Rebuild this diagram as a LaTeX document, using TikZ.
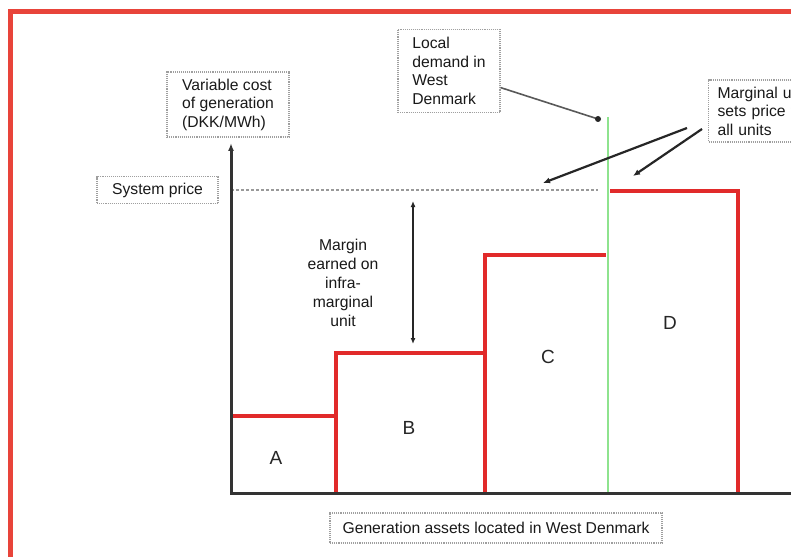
\documentclass[tikz,border=0pt]{standalone}
\usepackage{fontspec}
\setmainfont{Liberation Sans}
\usetikzlibrary{arrows.meta,calc}
\definecolor{frame}{HTML}{E8443A}
\definecolor{step}{HTML}{E12A2A}
\definecolor{dem}{HTML}{8EE38E}
\definecolor{axis}{HTML}{333333}
\tikzset{
  lbox/.style={draw=gray!75, densely dotted, line width=1.1pt, inner sep=0pt,
    font=\fontsize{15.7}{18.5}\selectfont, align=left, text=black!90},
  plain/.style={font=\fontsize{15.7}{19}\selectfont, align=center, text=black!90},
  letter/.style={font=\fontsize{19}{22}\selectfont, text=black!85},
  redline/.style={draw=step, line width=3.6pt},
  pointer/.style={draw=black!85, line width=2.2pt, -{Latex[length=7pt,width=6pt]}},
}
\begin{document}
\begin{tikzpicture}[x=1pt,y=-1pt]
\useasboundingbox (0,0) rectangle (791,556);
\clip (0,0) rectangle (791,556);
\fill[white] (0,0) rectangle (791,556);
% red frame
\draw[frame, line width=5pt] (10.5,11.5) rectangle (820,580);

% demand line (green)
\draw[dem, line width=2pt] (608,117) -- (608,493);

% system price dotted line
\draw[gray!80, densely dashed, line width=1.2pt] (231,190) -- (598,190);

% red step curve
\draw[redline] (231,416) -- (336,416);
\draw[redline] (336,493) -- (336,353) -- (485,353);
\draw[redline] (485,493) -- (485,255) -- (606,255);
\draw[redline] (610,191) -- (738,191) -- (738,493);

% axes
\draw[axis, line width=3pt, line cap=rect] (231,493) -- (800,493);
\draw[axis, line width=3pt, -{Latex[length=8pt,width=6pt]}] (231,493) -- (231,143);

% boxes
\node[lbox, minimum width=122pt, minimum height=65pt] (vc) at (228,104.5)
  {Variable cost\\of generation\\(DKK/MWh)};
\node[lbox, minimum width=121pt, minimum height=27pt] (sp) at (157.5,190)
  {System price};
\node[lbox, minimum width=102pt, minimum height=83pt] (ld) at (449,71)
  {Local\\demand in\\West\\Denmark};
\node[lbox, anchor=west, minimum width=170pt, minimum height=62pt, text width=152pt, inner xsep=9pt] (mu) at (708,111)
  {Marginal unit\\sets price for\\all units};
\node[lbox, minimum width=332pt, minimum height=30pt] (ga) at (496,528)
  {Generation assets located in West Denmark};

% margin label and double arrow
\node[plain] (mg) at (343,283) {Margin\\earned on\\infra-\\marginal\\unit};
\coordinate (mtop) at (413,201);
\coordinate (mbot) at (413,344);
\draw[black!85, line width=1.6pt, {Latex[length=6pt,width=5pt]}-{Latex[length=6pt,width=5pt]}] (mtop) -- (mbot);

% letters
\node[letter] (A) at (276,458) {A};
\node[letter] (B) at (409,428) {B};
\node[letter] (C) at (548,357) {C};
\node[letter] (D) at (670,323) {D};

% local demand pointer
\coordinate (ldtip) at (598,119);
\draw[gray!70!black, line width=1.6pt] (ld) -- (ldtip);
\fill[black!85] (ldtip) circle (3pt);

% marginal unit pointers
\coordinate (p1) at (543,183);
\coordinate (p2) at (633,176);
\draw[pointer] ($(mu.west)+(-21,17)$) -- (p1);
\draw[pointer] ($(mu.west)+(-6,18)$) -- (p2);
\end{tikzpicture}
\end{document}
